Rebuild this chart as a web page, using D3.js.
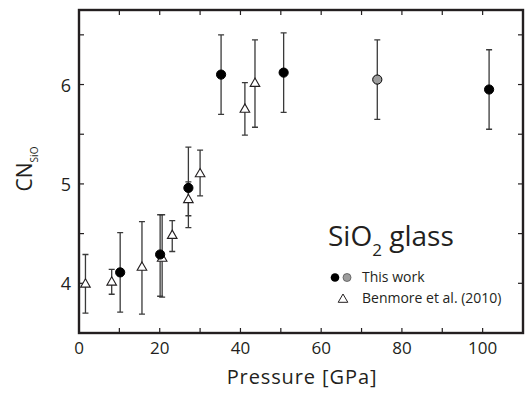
<!DOCTYPE html>
<html>
<head>
<meta charset="utf-8">
<script src="https://cdn.jsdelivr.net/npm/d3@7"></script>
<style>
  body { margin: 0; background: #fff; }
  svg { display: block; font-family: "Open Sans", "DejaVu Sans", sans-serif; }
</style>
</head>
<body>
<svg id="chart"></svg>
<script>
// this work
let pressureThis = [10.2, 20.1, 27.1, 35.2, 50.7, 73.9, 101.6];
let cnThis = [4.11, 4.29, 4.96, 6.10, 6.12, 6.05, 5.95];
let cnThisHi = [4.51, 4.69, 5.37, 6.50, 6.52, 6.45, 6.35];
let cnThisLo = [3.71, 3.87, 4.56, 5.70, 5.72, 5.65, 5.55];
let runThis = ["a", "a", "a", "a", "a", "b", "a"];

// Benmore et al. (2010)
let pressureBen = [1.6, 8.1, 15.6, 20.6, 23.1, 27.1, 30.0, 41.1, 43.6];
let cnBen = [4.00, 4.02, 4.17, 4.26, 4.49, 4.85, 5.11, 5.76, 6.02];
let cnBenHi = [4.29, 4.14, 4.62, 4.69, 4.63, 5.02, 5.34, 6.02, 6.45];
let cnBenLo = [3.70, 3.89, 3.69, 3.86, 4.32, 4.68, 4.88, 5.49, 5.57];

let xTicks = [0, 20, 40, 60, 80, 100];
let yTicks = [4, 5, 6];

let width = 527, height = 393;
let margin = {top: 10, right: 4, bottom: 60, left: 79};

let svg = d3.select("#chart").attr("width", width).attr("height", height);

let x = d3.scaleLinear().domain([0, 110]).range([margin.left, width - margin.right]);
let y = d3.scaleLinear().domain([3.5, 6.75]).range([height - margin.bottom, margin.top]);

let ink = "#231f20";

// ticks on all four sides, pointing in
let xt = d3.range(0, 111, 10);
let yt = d3.range(3.5, 6.76, 0.5);
let tl = 5;

let ticks = svg.append("g").attr("stroke", ink).attr("stroke-width", 1.2);
ticks.selectAll(".xb").data(xt).join("line")
  .attr("x1", d => x(d)).attr("x2", d => x(d))
  .attr("y1", y(3.5)).attr("y2", y(3.5) - tl);
ticks.selectAll(".xt").data(xt).join("line")
  .attr("x1", d => x(d)).attr("x2", d => x(d))
  .attr("y1", y(6.75)).attr("y2", y(6.75) + tl);
ticks.selectAll(".yl").data(yt).join("line")
  .attr("y1", d => y(d)).attr("y2", d => y(d))
  .attr("x1", x(0)).attr("x2", x(0) + tl);
ticks.selectAll(".yr").data(yt).join("line")
  .attr("y1", d => y(d)).attr("y2", d => y(d))
  .attr("x1", x(110)).attr("x2", x(110) - tl);

// tick labels
svg.append("g")
  .attr("font-size", 17).attr("fill", ink).attr("text-anchor", "middle")
  .selectAll("text").data(xTicks).join("text")
  .attr("x", d => x(d)).attr("y", y(3.5) + 20.5)
  .text(d => d);

svg.append("g")
  .attr("font-size", 18).attr("fill", ink).attr("text-anchor", "end")
  .selectAll("text").data(yTicks).join("text")
  .attr("x", x(0) - 8).attr("y", d => y(d) + 7)
  .text(d => d);

// axis titles
svg.append("text")
  .attr("x", (x(0) + x(110)) / 2 + 1).attr("y", height - 9)
  .attr("text-anchor", "middle").attr("font-size", 20).attr("letter-spacing", 0.9).attr("fill", ink)
  .text("Pressure [GPa]");

let yl = svg.append("text")
  .attr("transform", `translate(32,169) rotate(-90)`)
  .attr("text-anchor", "middle").attr("font-size", 21).attr("fill", ink);
yl.append("tspan").text("CN");
yl.append("tspan").attr("font-size", 10).attr("dy", 6).text("SiO");

// error bars
let bars = [];
pressureBen.forEach((p, i) => bars.push({p: p, lo: cnBenLo[i], hi: cnBenHi[i]}));
pressureThis.forEach((p, i) => bars.push({p: p, lo: cnThisLo[i], hi: cnThisHi[i]}));

let eb = svg.append("g").attr("stroke", "#3a3a3a").attr("stroke-width", 1.3).attr("fill", "none");
eb.selectAll("path").data(bars).join("path")
  .attr("d", d => {
    let cx = x(d.p), y1 = y(d.hi), y2 = y(d.lo);
    return `M${cx},${y1}V${y2}M${cx - 3},${y1}H${cx + 3}M${cx - 3},${y2}H${cx + 3}`;
  });

// markers
let tri = (cx, cy) => `M${cx},${cy - 4.5}L${cx + 4.8},${cy + 3.8}L${cx - 4.8},${cy + 3.8}Z`;

svg.append("g")
  .selectAll("path").data(pressureBen.map((p, i) => ({p: p, v: cnBen[i]}))).join("path")
  .attr("d", d => tri(x(d.p), y(d.v)))
  .attr("fill", "#fff").attr("stroke", ink).attr("stroke-width", 1.1);

let runFill = {a: "#000", b: "#9d9d9d"};
svg.append("g")
  .selectAll("circle").data(pressureThis.map((p, i) => ({p: p, v: cnThis[i], r: runThis[i]}))).join("circle")
  .attr("cx", d => x(d.p)).attr("cy", d => y(d.v)).attr("r", 4.6)
  .attr("fill", d => runFill[d.r]).attr("stroke", "#000").attr("stroke-width", 1);

// frame
svg.append("rect")
  .attr("x", x(0)).attr("y", y(6.75))
  .attr("width", x(110) - x(0)).attr("height", y(3.5) - y(6.75))
  .attr("fill", "none").attr("stroke", ink).attr("stroke-width", 2.4);

// title inside plot
let title = svg.append("text")
  .attr("x", 328).attr("y", 246).attr("font-size", 28).attr("fill", ink);
title.append("tspan").text("SiO");
title.append("tspan").attr("font-size", 17).attr("dy", 10).text("2");
title.append("tspan").attr("dy", -10).text(" glass");

// legend
let lg = svg.append("g").attr("font-size", 14).attr("fill", ink);
lg.append("circle").attr("cx", 335).attr("cy", 277.5).attr("r", 4.3).attr("fill", "#000");
lg.append("circle").attr("cx", 347).attr("cy", 277.5).attr("r", 4).attr("fill", "#9d9d9d").attr("stroke", "#555").attr("stroke-width", 0.8);
lg.append("path").attr("d", tri(343, 298.5)).attr("fill", "#fff").attr("stroke", ink).attr("stroke-width", 1);
lg.append("text").attr("x", 362).attr("y", 282).text("This work");
lg.append("text").attr("x", 362).attr("y", 302.5).text("Benmore et al. (2010)");
</script>
</body>
</html>
